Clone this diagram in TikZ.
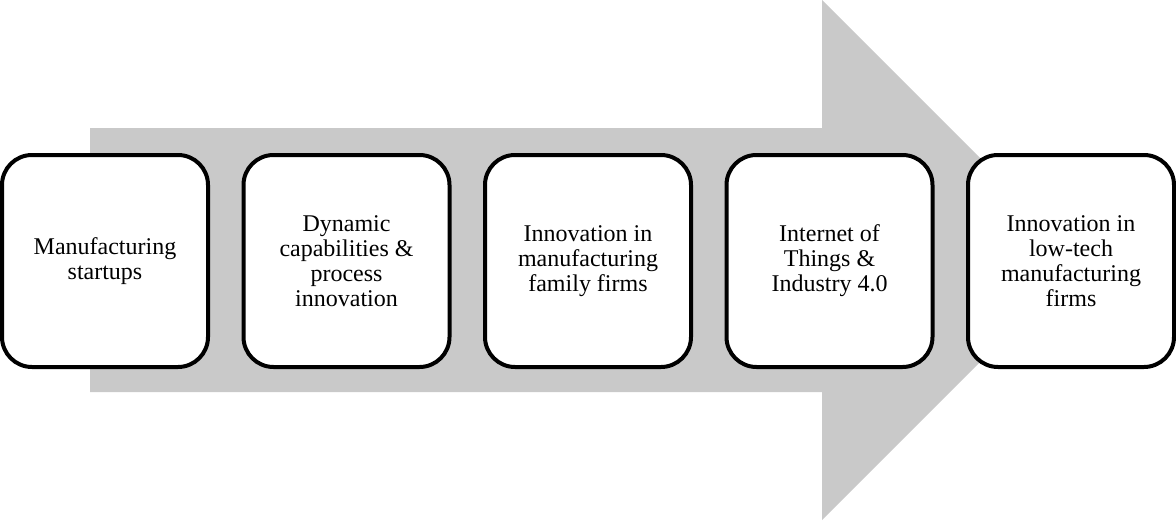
\documentclass[tikz,border=0pt]{standalone}
\usepackage{fontspec}
\setmainfont{Liberation Serif}
\definecolor{arrowgray}{RGB}{201,201,201}
\begin{document}
\begin{tikzpicture}[x=1pt,y=-1pt,
  stage/.style={draw=black, line width=4pt, fill=white, rounded corners=30pt,
    minimum width=206pt, minimum height=212pt, inner sep=0pt, align=center,
    font=\fontsize{24pt}{25pt}\selectfont}]
\useasboundingbox (0,0) rectangle (1176,527);
\fill[arrowgray] (90,128) -- (822,128) -- (822,0) -- (1082,260) -- (822,520) -- (822,392) -- (90,392) -- cycle;
\node[stage] (s1) at (105,261) {Manufacturing\\startups};
\node[stage] (s2) at (346.5,261) {Dynamic\\capabilities \&\\process\\innovation};
\node[stage] (s3) at (588,261) {Innovation in\\manufacturing\\family firms};
\node[stage] (s4) at (829.5,261) {Internet of\\Things \&\\Industry 4.0};
\node[stage] (s5) at (1071,261) {Innovation in\\low-tech\\manufacturing\\firms};
\end{tikzpicture}
\end{document}
